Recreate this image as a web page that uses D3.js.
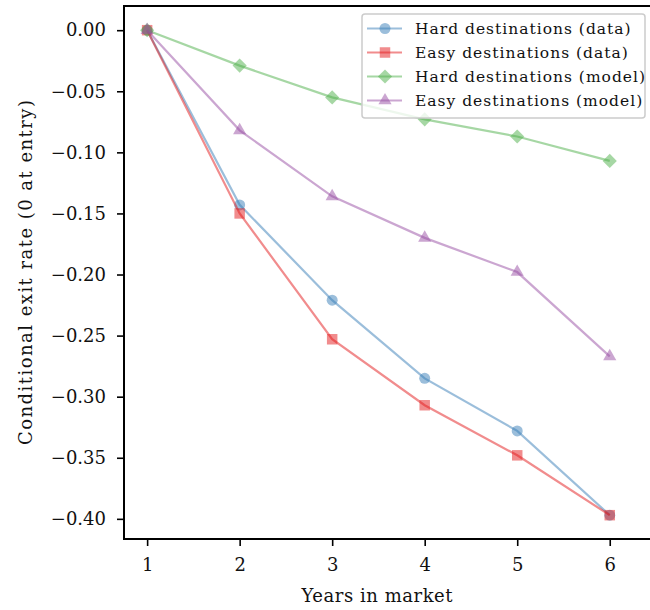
<!DOCTYPE html>
<html>
<head>
<meta charset="utf-8">
<script src="https://cdn.jsdelivr.net/npm/d3@7"></script>
<style>
  html, body { margin: 0; padding: 0; background: #fff; }
  svg { display: block; }
  text { font-family: "DejaVu Serif", "Liberation Serif", serif; fill: #111; }
</style>
</head>
<body>
<svg id="chart" width="650" height="610"></svg>
<script>
// Years since entry into a destination market
const years = [1, 2, 3, 4, 5, 6];

// Change in conditional exit rate relative to the entry year
const hardData   = [0.000, -0.143, -0.221, -0.285, -0.328, -0.397];
const easyData   = [0.000, -0.150, -0.253, -0.307, -0.348, -0.397];
const hardModel  = [0.000, -0.029, -0.055, -0.073, -0.087, -0.107];
const easyModel  = [0.000, -0.082, -0.136, -0.170, -0.198, -0.267];

const yTicks = [0.00, -0.05, -0.10, -0.15, -0.20, -0.25, -0.30, -0.35, -0.40];
const xTicks = [1, 2, 3, 4, 5, 6];

const seriesNames = [
  "Hard destinations (data)",
  "Easy destinations (data)",
  "Hard destinations (model)",
  "Easy destinations (model)"
];
const seriesValues = [hardData, easyData, hardModel, easyModel];
const seriesColors = ["#377eb8", "#e41a1c", "#4daf4a", "#984ea3"];

// Square diamond with equal diagonals
const symbolRhombus = {
  draw(ctx, size) {
    const r = Math.sqrt(size / 2);
    ctx.moveTo(0, -r); ctx.lineTo(r, 0); ctx.lineTo(0, r); ctx.lineTo(-r, 0); ctx.closePath();
  }
};
// Upward triangle centred on its centroid
const symbolUpTriangle = {
  draw(ctx, size) {
    const s = Math.sqrt(size * 4 / Math.sqrt(3));
    const h = s * Math.sqrt(3) / 2;
    ctx.moveTo(0, -2 * h / 3); ctx.lineTo(s / 2, h / 3); ctx.lineTo(-s / 2, h / 3); ctx.closePath();
  }
};
const seriesSymbols = [d3.symbolCircle, d3.symbolSquare, symbolRhombus, symbolUpTriangle];
const symbolSizes = [95, 110, 100, 75];

const svg = d3.select("#chart");
const plot = { left: 124, top: 6, right: 656, bottom: 539 };

const x = d3.scaleLinear().domain([0.75, 6.5]).range([plot.left, plot.right]);
const y = d3.scaleLinear().domain([0.0198, -0.4165]).range([plot.top, plot.bottom]);

const fmt = v => {
  const s = Math.abs(v).toFixed(2);
  return (v < -1e-9 ? "\u2212" : "") + s;
};

// Axes
const xAxis = d3.axisBottom(x).tickValues(xTicks).tickFormat(d3.format("d")).tickSize(7).tickPadding(12);
const yAxis = d3.axisLeft(y).tickValues(yTicks).tickFormat(fmt).tickSize(7).tickPadding(11);

const gx = svg.append("g").attr("transform", `translate(0,${plot.bottom})`).call(xAxis);
const gy = svg.append("g").attr("transform", `translate(${plot.left},0)`).call(yAxis);
[gx, gy].forEach(g => {
  g.select(".domain").remove();
  g.selectAll(".tick line").attr("stroke", "#000").attr("stroke-width", 1.6);
  g.selectAll(".tick text").attr("font-size", 18).attr("fill", "#111")
    .style("font-family", '"DejaVu Serif", serif');
});
gx.selectAll(".tick text").attr("dy", "0.73em");

// Frame
svg.append("rect")
  .attr("x", plot.left).attr("y", plot.top)
  .attr("width", plot.right - plot.left).attr("height", plot.bottom - plot.top)
  .attr("fill", "none").attr("stroke", "#000").attr("stroke-width", 2);

// Series
const line = d3.line().x((d, i) => x(years[i])).y(d => y(d));
seriesValues.forEach((vals, k) => {
  const g = svg.append("g");
  g.append("path").datum(vals)
    .attr("d", line)
    .attr("fill", "none")
    .attr("stroke", seriesColors[k])
    .attr("stroke-opacity", 0.5)
    .attr("stroke-width", 2.2);
  g.selectAll("path.mk").data(vals).join("path")
    .attr("class", "mk")
    .attr("transform", (d, i) => `translate(${x(years[i])},${y(d)})`)
    .attr("d", d3.symbol().type(seriesSymbols[k]).size(symbolSizes[k]))
    .attr("fill", seriesColors[k])
    .attr("fill-opacity", 0.5);
});

// Axis titles
svg.append("text")
  .attr("x", 377).attr("y", 602)
  .attr("text-anchor", "middle")
  .attr("font-size", 18)
  .attr("textLength", 151)
  .attr("lengthAdjust", "spacing")
  .text("Years in market");

svg.append("text")
  .attr("transform", "translate(31.5,272.5) rotate(-90)")
  .attr("text-anchor", "middle")
  .attr("font-size", 18)
  .attr("textLength", 345)
  .attr("lengthAdjust", "spacing")
  .text("Conditional exit rate (0 at entry)");

// Legend
const leg = svg.append("g");
leg.append("rect")
  .attr("x", 362).attr("y", 14)
  .attr("width", 283).attr("height", 104)
  .attr("rx", 3).attr("ry", 3)
  .attr("fill", "#fff").attr("fill-opacity", 0.8)
  .attr("stroke", "#cccccc").attr("stroke-width", 1.5);

seriesNames.forEach((name, k) => {
  const cy = 28.5 + k * 24;
  leg.append("line")
    .attr("x1", 367).attr("x2", 402).attr("y1", cy).attr("y2", cy)
    .attr("stroke", seriesColors[k]).attr("stroke-opacity", 0.5).attr("stroke-width", 2.2);
  leg.append("path")
    .attr("transform", `translate(385,${cy})`)
    .attr("d", d3.symbol().type(seriesSymbols[k]).size(symbolSizes[k]))
    .attr("fill", seriesColors[k]).attr("fill-opacity", 0.5);
  leg.append("text")
    .attr("x", 415).attr("y", cy + 5.5)
    .attr("font-size", 15.5)
    .attr("letter-spacing", 1.0)
    .text(name);
});
</script>
</body>
</html>
